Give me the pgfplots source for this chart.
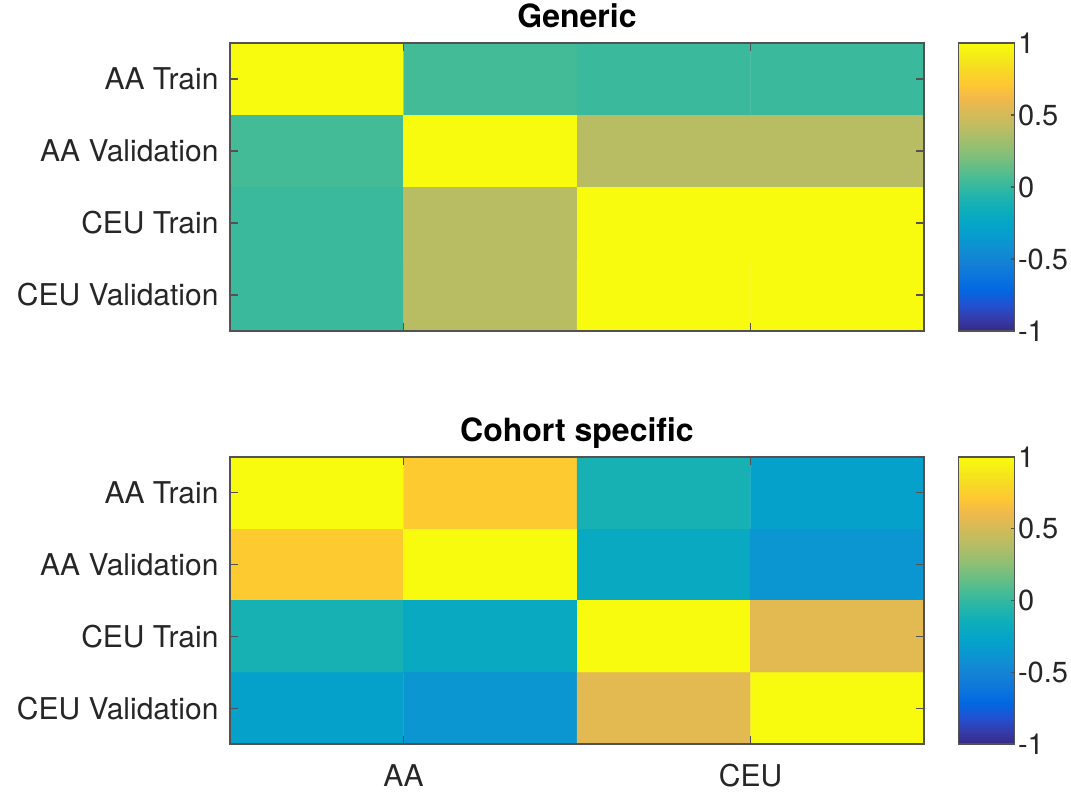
\documentclass[border=0pt]{standalone}
\usepackage{pgfplots}
\pgfplotsset{compat=1.18}
\usepackage{fontspec}
\setmainfont{TeX Gyre Heros}
\definecolor{txt}{rgb}{0.15,0.15,0.15}
\definecolor{axc}{rgb}{0.32,0.32,0.32}
\pgfplotsset{
  colormap={parula}{
    rgb=(0.2081,0.1663,0.5292)
    rgb=(0.2081,0.2386,0.6771)
    rgb=(0.1253,0.3242,0.8303)
    rgb=(0.0060,0.4086,0.8828)
    rgb=(0.0498,0.4586,0.8641)
    rgb=(0.0779,0.5040,0.8384)
    rgb=(0.0641,0.5570,0.8240)
    rgb=(0.0265,0.6137,0.8135)
    rgb=(0.0228,0.6535,0.7768)
    rgb=(0.0590,0.6838,0.7254)
    rgb=(0.1453,0.7098,0.6646)
    rgb=(0.2586,0.7317,0.5954)
    rgb=(0.3953,0.7459,0.5244)
    rgb=(0.5300,0.7491,0.4661)
    rgb=(0.6473,0.7456,0.4188)
    rgb=(0.7525,0.7384,0.3768)
    rgb=(0.8507,0.7299,0.3360)
    rgb=(0.9450,0.7261,0.2886)
    rgb=(0.9955,0.7861,0.1967)
    rgb=(0.9697,0.8481,0.1475)
    rgb=(0.9598,0.9218,0.0948)
    rgb=(0.9763,0.9831,0.0538)
  },
  hm/.style={
    scale only axis, width=694bp,
    xmin=0.5, xmax=4.5, ymin=0.5, ymax=4.5, y dir=reverse,
    enlargelimits=false, axis on top,
    xtick={1.5,3.5}, ytick={1,2,3,4},
    yticklabels={AA Train, AA Validation, CEU Train, CEU Validation},
    tick align=inside, major tick length=8bp,
    tick style={draw=axc, line width=1.2bp},
    axis line style={draw=axc, line width=1.5bp},
    tick label style={font=\fontsize{30bp}{34bp}\selectfont, text=txt},
    yticklabel style={xshift=-8bp},
    xticklabel style={yshift=-17bp},
    title style={font=\bfseries\fontsize{32bp}{36bp}\selectfont, text=black, at={(0.5,1)}, anchor=base, yshift=10bp},
    colormap name=parula, point meta min=-1, point meta max=1,
    colorbar, colorbar/width=56bp,
    colorbar style={
      at={(parent axis.north east)}, anchor=north west, xshift=26bp,
      scale only axis, width=56bp,
      ymin=-1, ymax=1, y dir=normal,
      ytick={-1,-0.5,0,0.5,1}, yticklabels={-1,-0.5,0,0.5,1},
      ytick pos=right, yticklabel pos=right,
      tick align=inside, major tick length=4bp,
      tick style={draw=axc, line width=1.2bp},
      axis line style={draw=axc, line width=1.5bp},
      tick label style={font=\fontsize{29bp}{33bp}\selectfont, text=txt},
      yticklabel style={xshift=0bp},
    },
  },
}
\begin{document}
\begin{tikzpicture}
\begin{axis}[hm, height=288bp, at={(230bp,751bp)}, anchor=north west,
  title={Generic}, xticklabels={},
  colorbar style={height=288bp}]
\addplot[matrix plot*, mesh/cols=4, point meta=explicit] table[meta=c]{
x y c
1 1 1
2 1 0.05
3 1 0.02
4 1 0.02
1 2 0.05
2 2 1
3 2 0.40
4 2 0.40
1 3 0.02
2 3 0.40
3 3 1
4 3 1
1 4 0.02
2 4 0.40
3 4 1
4 4 1
};
\end{axis}
\begin{axis}[hm, height=287bp, at={(230bp,337bp)}, anchor=north west,
  title={Cohort specific}, xticklabels={AA,CEU},
  colorbar style={height=287bp}]
\addplot[matrix plot*, mesh/cols=4, point meta=explicit] table[meta=c]{
x y c
1 1 1
2 1 0.73
3 1 -0.11
4 1 -0.29
1 2 0.73
2 2 1
3 2 -0.21
4 2 -0.38
1 3 -0.11
2 3 -0.21
3 3 1
4 3 0.56
1 4 -0.29
2 4 -0.38
3 4 0.56
4 4 1
};
\end{axis}
\pgfresetboundingbox
\useasboundingbox (0,0) rectangle (1071bp,794bp);
\end{tikzpicture}
\end{document}
